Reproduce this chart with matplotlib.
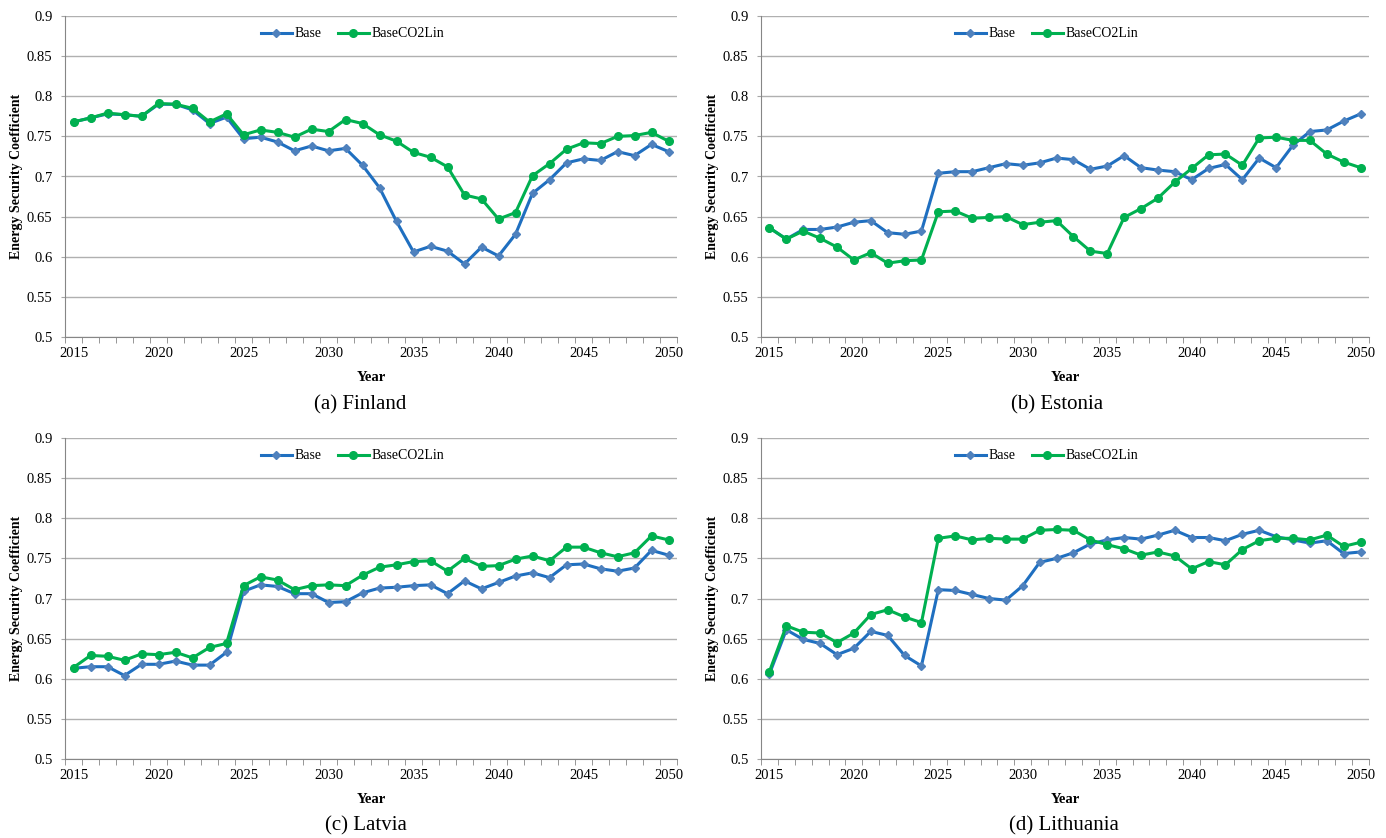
import matplotlib
matplotlib.use('Agg')
from matplotlib import pyplot as plt

plt.rcParams['font.family'] = ['Liberation Serif', 'DejaVu Serif']

years = list(range(2015, 2051))

fin_base = [0.768, 0.773, 0.778, 0.777, 0.775, 0.790, 0.790, 0.783, 0.766, 0.774,
            0.747, 0.749, 0.743, 0.732, 0.738, 0.732, 0.735, 0.714, 0.686, 0.644,
            0.606, 0.613, 0.607, 0.591, 0.612, 0.601, 0.628, 0.679, 0.696, 0.717,
            0.722, 0.720, 0.731, 0.726, 0.740, 0.731]
fin_co2 = [0.768, 0.773, 0.779, 0.777, 0.775, 0.791, 0.790, 0.785, 0.768, 0.778,
           0.752, 0.758, 0.755, 0.749, 0.759, 0.756, 0.771, 0.766, 0.752, 0.744,
           0.730, 0.724, 0.712, 0.677, 0.672, 0.647, 0.655, 0.701, 0.716, 0.734,
           0.742, 0.741, 0.750, 0.751, 0.755, 0.744]

est_base = [0.636, 0.622, 0.634, 0.634, 0.637, 0.643, 0.645, 0.630, 0.628, 0.632,
            0.704, 0.706, 0.706, 0.711, 0.716, 0.714, 0.717, 0.723, 0.721, 0.709,
            0.713, 0.726, 0.711, 0.708, 0.706, 0.696, 0.710, 0.715, 0.696, 0.723,
            0.711, 0.739, 0.756, 0.758, 0.769, 0.778]
est_co2 = [0.636, 0.622, 0.632, 0.623, 0.612, 0.596, 0.605, 0.592, 0.595, 0.596,
           0.656, 0.657, 0.648, 0.649, 0.650, 0.640, 0.643, 0.645, 0.625, 0.607,
           0.604, 0.649, 0.660, 0.673, 0.693, 0.710, 0.727, 0.728, 0.714, 0.748,
           0.749, 0.745, 0.745, 0.728, 0.718, 0.711]

lat_base = [0.613, 0.615, 0.615, 0.604, 0.618, 0.618, 0.622, 0.617, 0.617, 0.633,
            0.709, 0.717, 0.715, 0.706, 0.706, 0.695, 0.696, 0.707, 0.713, 0.714,
            0.716, 0.717, 0.706, 0.722, 0.712, 0.720, 0.728, 0.732, 0.726, 0.742,
            0.743, 0.737, 0.734, 0.738, 0.760, 0.754]
lat_co2 = [0.614, 0.629, 0.628, 0.623, 0.631, 0.630, 0.633, 0.626, 0.639, 0.644,
           0.716, 0.727, 0.723, 0.711, 0.716, 0.717, 0.716, 0.729, 0.739, 0.742,
           0.746, 0.747, 0.734, 0.750, 0.740, 0.741, 0.749, 0.753, 0.747, 0.764,
           0.764, 0.757, 0.752, 0.757, 0.778, 0.773]

lit_base = [0.606, 0.661, 0.649, 0.644, 0.630, 0.638, 0.659, 0.654, 0.629, 0.616,
            0.711, 0.710, 0.705, 0.700, 0.698, 0.716, 0.745, 0.750, 0.757, 0.768,
            0.773, 0.776, 0.774, 0.779, 0.785, 0.776, 0.776, 0.772, 0.780, 0.785,
            0.777, 0.773, 0.769, 0.772, 0.756, 0.758]
lit_co2 = [0.609, 0.666, 0.658, 0.657, 0.645, 0.657, 0.680, 0.686, 0.677, 0.670,
           0.775, 0.778, 0.773, 0.775, 0.774, 0.774, 0.785, 0.786, 0.785, 0.773,
           0.767, 0.762, 0.754, 0.758, 0.753, 0.737, 0.746, 0.742, 0.761, 0.772,
           0.775, 0.775, 0.773, 0.779, 0.765, 0.770]

panels = ['(a) Finland', '(b) Estonia', '(c) Latvia', '(d) Lithuania']
series = [(fin_base, fin_co2), (est_base, est_co2), (lat_base, lat_co2), (lit_base, lit_co2)]

W, H = 1386, 838
# axes boxes in pixels: left, right, top, bottom
boxes = [(65, 677, 16, 337), (761, 1369, 16, 337),
         (65, 677, 438, 759), (761, 1369, 438, 759)]
title_x = [360, 1057, 366, 1064]
title_y = [405, 405, 826, 826]

fig = plt.figure(figsize=(W / 100, H / 100), dpi=100)

for i in range(4):
    l, r, t, b = boxes[i]
    ax = fig.add_axes([l / W, (H - b) / H, (r - l) / W, (b - t) / H])
    base, co2 = series[i]
    ax.plot(years, base, color='#1F6FC0', lw=2.2, marker='D', ms=4,
            mfc='#4F81BD', mec='#4F81BD', label='Base', zorder=3)
    ax.plot(years, co2, color='#00B050', lw=2.2, marker='o', ms=5.5,
            mfc='#00B050', mec='#00B050', label='BaseCO2Lin', zorder=3)

    ax.set_xlim(2014.5, 2050.5)
    ax.set_ylim(0.5, 0.9)
    ax.set_yticks([0.5, 0.55, 0.6, 0.65, 0.7, 0.75, 0.8, 0.85, 0.9])
    ax.set_yticklabels(['0.5', '0.55', '0.6', '0.65', '0.7', '0.75', '0.8', '0.85', '0.9'])
    ax.set_xticks(range(2015, 2051, 5))
    ax.set_xticks([y + 0.5 for y in range(2014, 2051)], minor=True)
    ax.tick_params(axis='x', which='major', length=0, labelsize=10.5, pad=7)
    ax.tick_params(axis='x', which='minor', length=4, color='#868686', direction='out')
    ax.tick_params(axis='y', length=3, color='#A6A6A6', labelsize=10.5, pad=6)

    ax.grid(axis='y', color='#B0B0B0', lw=1.0)
    ax.set_axisbelow(True)
    for s in ['top', 'right']:
        ax.spines[s].set_visible(False)
    ax.spines['left'].set_color('#868686')
    ax.spines['bottom'].set_color('#868686')

    ax.set_xlabel('Year', fontweight='bold', fontsize=10.5, labelpad=8)
    ax.set_ylabel('Energy Security Coefficient', fontweight='bold', fontsize=10, labelpad=3)
    ax.legend(loc='center', bbox_to_anchor=(0.47, 0.944), ncol=2, frameon=False,
              fontsize=10, handlelength=2.2, columnspacing=1.2, handletextpad=0.2)

    fig.text(title_x[i] / W, (H - title_y[i]) / H, panels[i], ha='center', va='center', fontsize=15)

fig.savefig('out.png', dpi=100)
